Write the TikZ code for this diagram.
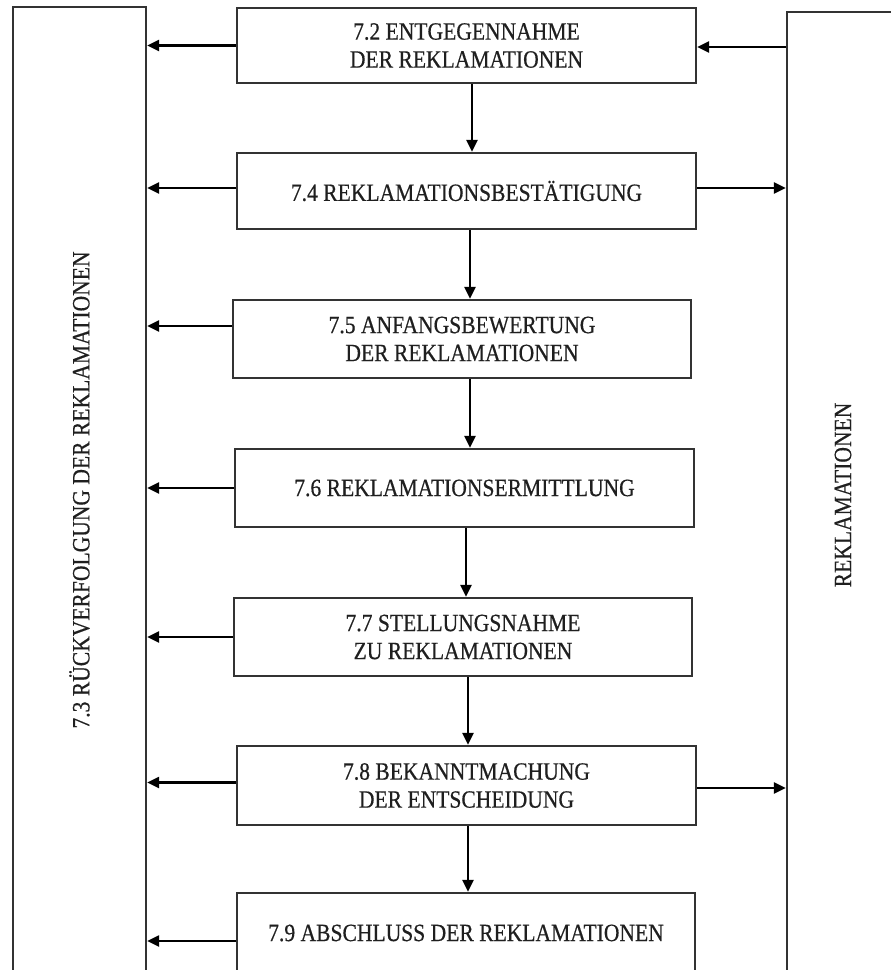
\documentclass[tikz,border=0pt]{standalone}
\usepackage{fontspec}
\setmainfont{Liberation Serif}[FakeStretch=0.87,FakeBold=0.5]
\usetikzlibrary{arrows.meta,calc}
\begin{document}
\begin{tikzpicture}[x=1pt,y=-1pt,
  line width=2.4pt,
  every node/.style={font=\fontsize{24.8}{28}\selectfont, text=black!88},
  box/.style={draw=black!80, fill=white, align=center, inner sep=0pt},
  tall/.style={draw=black!80, inner sep=0pt},
  arr/.style={draw=black, -{Triangle[length=12pt,width=11pt]}}]
\useasboundingbox (0,0) rectangle (891,970);
% side boxes
\node[tall, minimum width=133pt, minimum height=1000pt] (L) at (79.5,507) {};
\node[tall, minimum width=120pt, minimum height=1000pt] (R) at (847,512) {};
\node[rotate=90] (Lt) at (L.center |- 0,490) {7.3 RÜCKVERFOLGUNG DER REKLAMATIONEN};
\node[rotate=90] (Rt) at (843,495) {REKLAMATIONEN};
% process boxes
\node[box, minimum width=459pt, minimum height=75pt] (b2) at (466.5,45.5) {7.2 ENTGEGENNAHME\\DER REKLAMATIONEN};
\node[box, minimum width=459pt, minimum height=76pt] (b4) at (466.5,191) {7.4 REKLAMATIONSBESTÄTIGUNG};
\node[box, minimum width=458pt, minimum height=78pt] (b5) at (462,339) {7.5 ANFANGSBEWERTUNG\\DER REKLAMATIONEN};
\node[box, minimum width=459pt, minimum height=78pt] (b6) at (464.5,488) {7.6 REKLAMATIONSERMITTLUNG};
\node[box, minimum width=458pt, minimum height=78pt] (b7) at (463,637) {7.7 STELLUNGSNAHME\\ZU REKLAMATIONEN};
\node[box, minimum width=459pt, minimum height=79pt] (b8) at (466.5,785.5) {7.8 BEKANNTMACHUNG\\DER ENTSCHEIDUNG};
\node[box, minimum width=458pt, minimum height=80pt] (b9) at (466,933) {7.9 ABSCHLUSS DER REKLAMATIONEN};
% vertical arrows
\draw[arr] ([xshift=5.5pt]b2.south) -- ([xshift=5.5pt]b2.south |- b4.north);
\draw[arr] ([xshift=3.5pt]b4.south) -- ([xshift=3.5pt]b4.south |- b5.north);
\draw[arr] ([xshift=8pt]b5.south) -- ([xshift=8pt]b5.south |- b6.north);
\draw[arr] ([xshift=1.5pt]b6.south) -- ([xshift=1.5pt]b6.south |- b7.north);
\draw[arr] ([xshift=5pt]b7.south) -- ([xshift=5pt]b7.south |- b8.north);
\draw[arr] ([xshift=1.5pt]b8.south) -- ([xshift=1.5pt]b8.south |- b9.north);
% left arrows
\draw[arr] (b2.west) -- (b2.west -| L.east);
\draw[arr] ([yshift=3pt]b4.west) -- ([yshift=3pt]b4.west -| L.east);
\draw[arr] ([yshift=13pt]b5.west) -- ([yshift=13pt]b5.west -| L.east);
\draw[arr] (b6.west) -- (b6.west -| L.east);
\draw[arr] (b7.west) -- (b7.west -| L.east);
\draw[arr] ([yshift=3pt]b8.west) -- ([yshift=3pt]b8.west -| L.east);
\draw[arr] ([yshift=-8pt]b9.west) -- ([yshift=-8pt]b9.west -| L.east);
% right arrows
\draw[arr] ([yshift=-1.5pt]b2.east -| R.west) -- ([yshift=-1.5pt]b2.east);
\draw[arr] ([yshift=3pt]b4.east) -- ([yshift=3pt]b4.east -| R.west);
\draw[arr] ([yshift=-2.5pt]b8.east) -- ([yshift=-2.5pt]b8.east -| R.west);
\end{tikzpicture}
\end{document}
